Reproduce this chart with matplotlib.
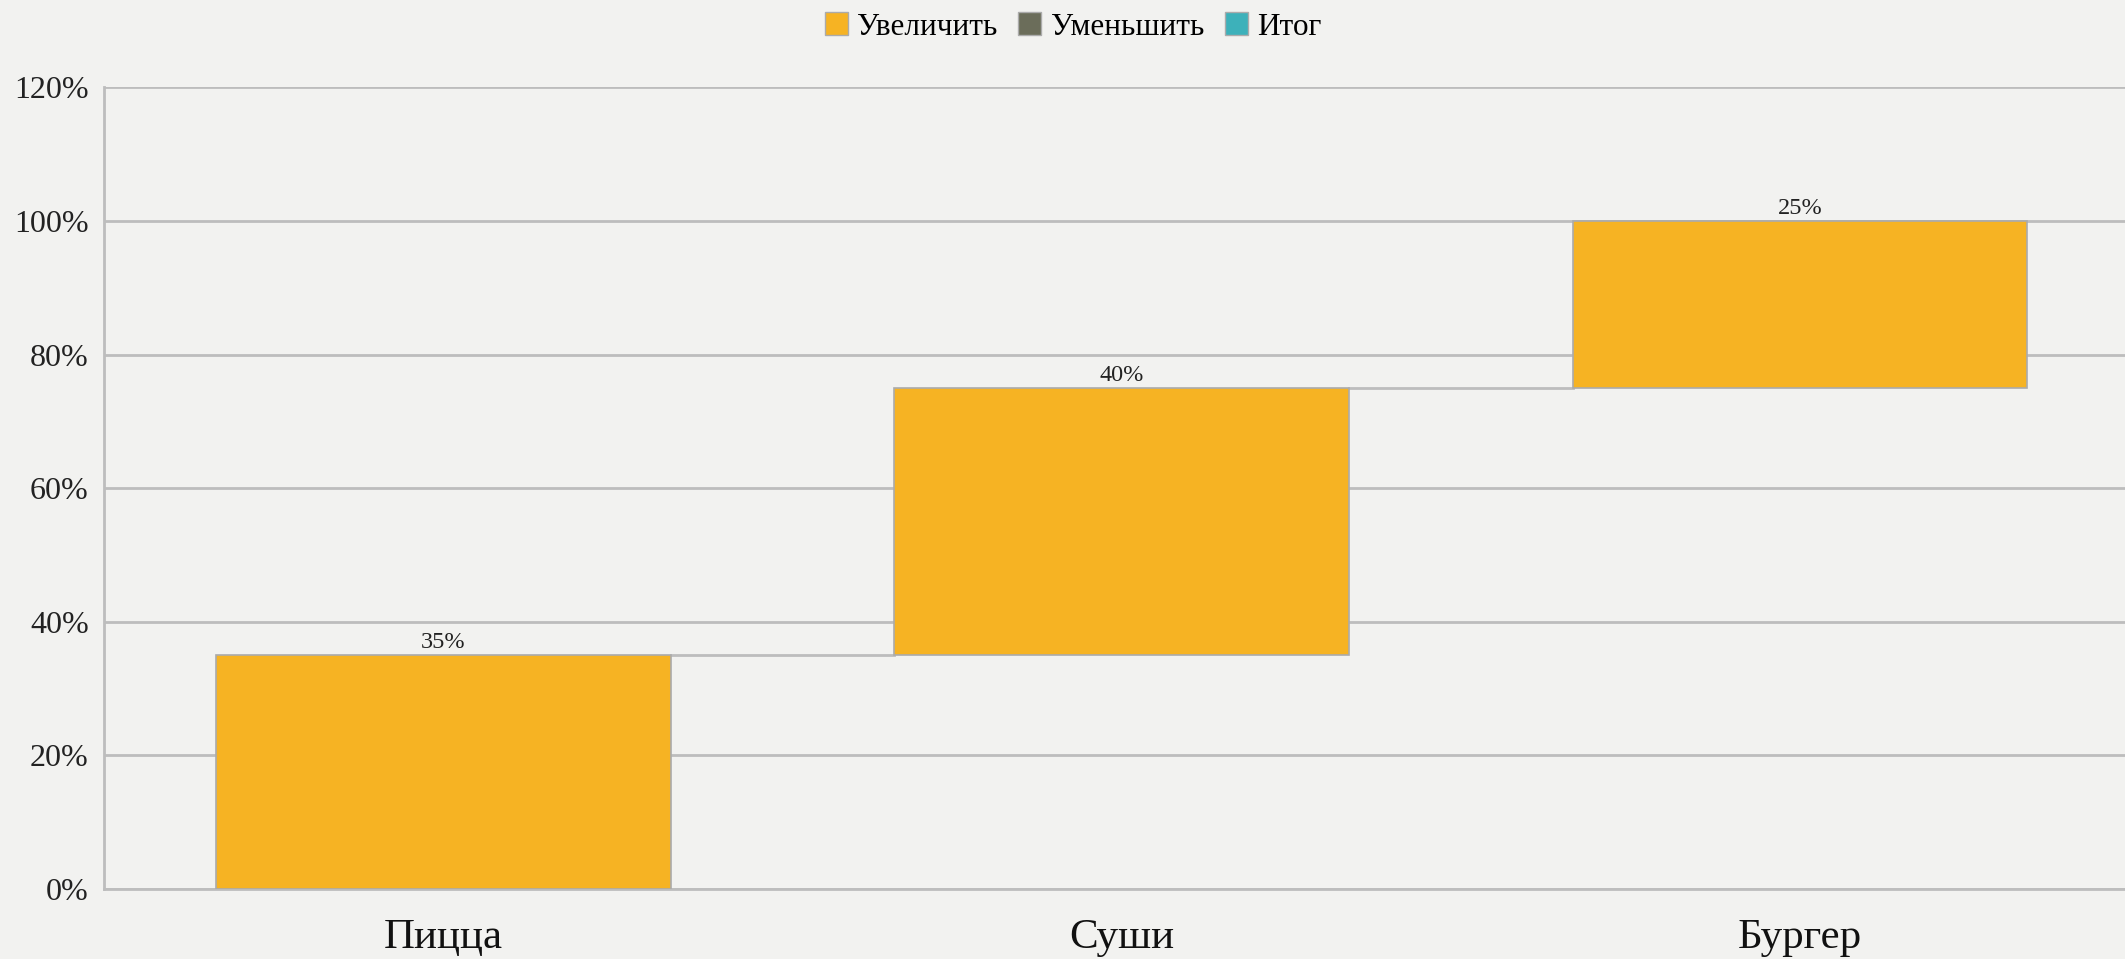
import matplotlib
matplotlib.use("Agg")
import matplotlib.pyplot as plt
from matplotlib.patches import Patch
import numpy as np

# данные водопада
categories = ["Пицца", "Суши", "Бургер"]
increase = [35, 40, 25]
legend_labels = ["Увеличить", "Уменьшить", "Итог"]
legend_colors = ["#F6B323", "#6B6D5A", "#3DB1BA"]
y_ticks = [0, 20, 40, 60, 80, 100, 120]

bg = "#F2F2F0"
grid_col = "#BDBDBD"

plt.rcParams["font.family"] = ["Liberation Serif", "DejaVu Serif"]

fig = plt.figure(figsize=(21.25, 9.59), dpi=100, facecolor=bg)
ax = fig.add_axes([0.049, 0.073, 0.9576, 0.836], facecolor=bg)

x = np.arange(len(categories))
bottoms = np.concatenate([[0], np.cumsum(increase)[:-1]])
tops = bottoms + np.array(increase)
width = 0.67

ax.bar(x, increase, bottom=bottoms, width=width, color=legend_colors[0],
       edgecolor="#ABABAB", linewidth=1.2, zorder=3)

# соединительные линии
for i in range(len(categories) - 1):
    ax.plot([x[i] + width / 2, x[i + 1] - width / 2], [tops[i], tops[i]],
            color=grid_col, linewidth=2, zorder=2)

for xi, t, v in zip(x, tops, increase):
    ax.text(xi, t + 0.3, f"{v}%", ha="center", va="bottom", fontsize=17.5, color="#222222", zorder=4)

ax.set_xlim(-0.5, len(categories) - 0.5)
ax.set_ylim(0, 120)
ax.set_yticks(y_ticks)
ax.set_yticklabels([f"{t}%" for t in y_ticks])
ax.set_xticks(x)
ax.set_xticklabels(categories)
ax.tick_params(axis="y", length=0, labelsize=23, pad=11, colors="#222222")
ax.tick_params(axis="x", length=0, labelsize=31, pad=21, colors="#111111")

ax.yaxis.grid(True, color=grid_col, linewidth=2, zorder=0)
ax.set_axisbelow(True)
for s in ["top", "right"]:
    ax.spines[s].set_visible(False)
for s in ["left", "bottom"]:
    ax.spines[s].set_color(grid_col)
    ax.spines[s].set_linewidth(2)

handles = [Patch(facecolor=c, edgecolor="#ABABAB", label=l) for c, l in zip(legend_colors, legend_labels)]
fig.legend(handles=handles, loc="center", bbox_to_anchor=(0.505, 0.972), ncol=3, frameon=False,
           fontsize=22.5, handlelength=0.75, handleheight=0.75, handletextpad=0.3, columnspacing=0.65)

fig.savefig("out.png", dpi=100, facecolor=bg)
